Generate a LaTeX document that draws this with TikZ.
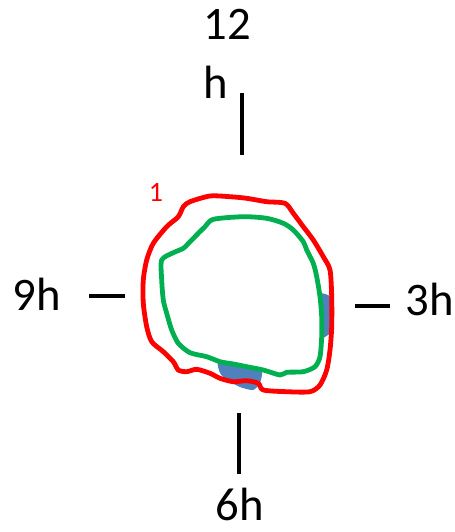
\documentclass[tikz,border=0pt]{standalone}
\usepackage{fontspec}
\setmainfont{Carlito}
\usetikzlibrary{positioning}

\definecolor{loopred}{HTML}{FF0000}
\definecolor{loopgreen}{HTML}{00B050}
\definecolor{patchblue}{HTML}{4F81BD}

\begin{document}
\begin{tikzpicture}[x=0.75pt, y=-0.75pt,
    hour/.style={font=\fontsize{35}{38}\selectfont, inner sep=0pt, anchor=base},
    tick/.style={line width=2.3pt},
    loop/.style={line width=3.6pt, line join=round},
    patch/.style={fill=patchblue, draw=none}]
    \useasboundingbox (0,0) rectangle (454,532);
    % hour labels
    \node[hour] (twelve) at (227,39) {12};
    \node[hour] (twelveh) at (216,98) {h};
    \node[hour] (nine) at (37,310) {9h};
    \node[hour] (three) at (430,315) {3h};
    \node[hour, text depth=0pt] (six) at (240,520) {6h};
    % ticks
    \coordinate (ttop) at (242,93);
    \coordinate (tbot) at (242,155);
    \coordinate (ltop) at (89,296);
    \coordinate (lbot) at (125,296);
    \coordinate (rtop) at (355,306);
    \coordinate (rbot) at (390,306);
    \coordinate (btop) at (239,413);
    \coordinate (bbot) at (239,474);
    \draw[tick] (ttop) -- (tbot);
    \draw[tick] (ltop) -- (lbot);
    \draw[tick] (rtop) -- (rbot);
    \draw[tick] (btop) -- (bbot);
    % blue patches
    \fill[patch] plot[smooth cycle, tension=0.4] coordinates {(320,293) (328,295)
      (333,299) (334,315) (333,330) (328,335) (322,337) (321.7,316.7) (320,297)};
    \fill[patch] plot[smooth cycle, tension=0.4] coordinates {(218,361.7)
      (233.3,364) (246.7,366.7) (261.7,370) (260,383) (253,390) (240,387)
      (227,380) (220,373)};
    % red loop
    \draw[loop, loopred] plot[smooth cycle, tension=0.45] coordinates {
      (210,196) (190,201.7) (183.3,206.7) (178.3,216.7) (166.7,226.7)
      (153.3,243.3) (146.7,260) (143.3,280) (143.3,303.3) (146.7,326.7)
      (151.7,341.7) (163.3,351.7) (173.3,361.7) (178.3,370) (186.7,371.7)
      (196.7,369.3) (210,373.3) (220,378.3) (233.3,381.7) (246.7,380.7)
      (258.3,383.3) (263.3,390) (286.7,391.7) (310,391.7) (320,385)
      (326.7,370) (330,350) (331.7,326.7) (331.7,296.7) (330,270)
      (323.3,256.7) (313.3,240) (303.3,226.7) (293.3,213.3) (285,203.3)
      (266.7,201.7) (246.7,198.3) (230,196.7)};
    % green loop
    \draw[loop, loopgreen] plot[smooth cycle, tension=0.45] coordinates {
      (243.3,216.7) (213.3,219.3) (205,226.7) (198.3,233.3) (190,241.7)
      (183.3,248.3) (173.3,252.7) (161.7,260) (161.7,280) (163.3,300)
      (166.7,313.3) (171.7,330) (178.3,343.3) (190,352.7) (206.7,356.7)
      (220,361.7) (233.3,364) (246.7,366.7) (263.3,370) (280,375)
      (286.7,372.3) (303.3,371.7) (315,366.7) (320,356.7) (321.7,336.7)
      (321.7,316.7) (320,296.7) (316.7,276.7) (313.3,263.3) (306.7,250)
      (303.3,241.7) (293.3,230) (283.3,223.3) (266.7,218.3)};
    % loop number
    \node[font=\fontsize{21}{24}\selectfont, text=loopred, inner sep=0pt]
      (loopone) at (156,192) {1};
\end{tikzpicture}
\end{document}
